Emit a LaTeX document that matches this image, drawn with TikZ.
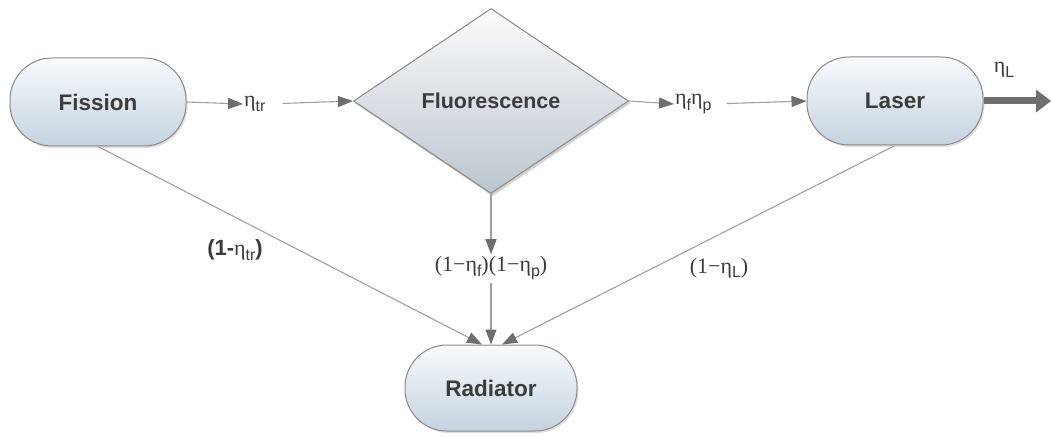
\documentclass[tikz,border=0pt]{standalone}
\usepackage{fontspec}
\setmainfont{Liberation Sans}
\newfontfamily\grk{Liberation Serif}
\usetikzlibrary{shapes.geometric,arrows.meta,shadows,calc,backgrounds}
\definecolor{edgegray}{HTML}{8A8A8A}
\definecolor{linegray}{HTML}{A0A0A0}
\definecolor{headgray}{HTML}{6E6E6E}
\definecolor{txtgray}{HTML}{3C3C3C}
\definecolor{boxtop}{HTML}{F8FAFC}
\definecolor{boxbot}{HTML}{C5D3E0}
\definecolor{diatop}{HTML}{FAFBFC}
\definecolor{diabot}{HTML}{BCC5CE}
\newcommand\et{{\grk η}}
\newcommand\sbs[1]{\raisebox{-0.45ex}{\rmfamily\fontsize{16}{16}\selectfont #1}}
\tikzset{
  pill/.style={draw=edgegray, line width=1pt, rounded corners=42pt,
    top color=boxtop, bottom color=boxbot,
    minimum width=176pt, minimum height=88pt, inner sep=0pt,
    font=\fontsize{22.5}{22.5}\selectfont\bfseries, text=txtgray,
    drop shadow={opacity=0.25, shadow xshift=1.5pt, shadow yshift=-2pt}},
  diam/.style={diamond, draw=edgegray, line width=1pt,
    aspect=1.486, inner sep=0pt,
    minimum width=275pt, minimum height=185pt,
    font=\fontsize{21.5}{21.5}\selectfont\bfseries, text=txtgray},
  diamfill/.style={top color=diatop, bottom color=diabot, draw=none},
  lbl/.style={inner sep=1pt, font=\fontsize{22}{22}\selectfont, text=txtgray},
  conn/.style={draw=linegray, line width=1.1pt, -{Triangle[length=15pt,width=11pt,fill=headgray,color=headgray]}},
  thick arrow/.style={draw=headgray, line width=7pt, -{Triangle[length=15pt,width=22pt]}}
}
\begin{document}
\begin{tikzpicture}[x=1pt,y=-1pt]
\useasboundingbox (0,0) rectangle (1051,438);
\node[pill] (fission) at (98,102) {Fission};
\node[diam] (fluor) at (491,101) {Fluorescence};
\node[pill] (laser) at (895,101) {Laser};
\node[pill, minimum width=172pt, minimum height=86pt] (radiator) at (491,388) {Radiator};
\begin{scope}[on background layer]
  \fill[black, opacity=0.18] ([shift={(1.5,2)}]fluor.north) -- ([shift={(1.5,2)}]fluor.east) -- ([shift={(1.5,2)}]fluor.south) -- ([shift={(1.5,2)}]fluor.west) -- cycle;
  \shade[diamfill] (fluor.north) -- (fluor.east) -- (fluor.south) -- (fluor.west) -- cycle;
\end{scope}

\node[lbl, anchor=west] (etr) at (243,104) {\et\sbs{tr}};
\node[lbl, anchor=west] (efp) at (674,104) {\et\sbs{f}\et\sbs{p}};
\node[lbl] (eL) at (1004,70) {\et\sbs{L}};
\node[lbl] (omtr) at (235,250) {\textbf{(1-}\et\sbs{tr}\textbf{)}};
\node[lbl] (omfp) at (491,268) {\grk(1−η\sbs{f})(1−η\sbs{p})};
\node[lbl] (omL) at (719,268) {\grk(1−η\sbs{L})};
\coordinate (out) at (1051,101);

\draw[conn] (fission.east) -- (etr.west);
\draw[conn, shorten <=16pt] (etr.east) -- (fluor.west);
\draw[conn] (fluor.east) -- (efp.west);
\draw[conn, shorten <=14pt] (efp.east) -- (laser.west);
\draw[thick arrow] (laser.east) -- (out);
\draw[conn, shorten >=1pt] (fluor.south) -- (omfp.north);
\draw[conn, shorten <=2pt] (omfp.south) -- (radiator.north);
\draw[conn] (fission.south) -- ([xshift=-9pt]radiator.north);
\draw[conn] (laser.south) -- ([xshift=11pt]radiator.north);
\end{tikzpicture}
\end{document}
